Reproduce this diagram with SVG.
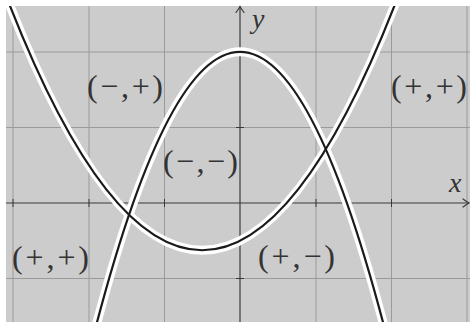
<svg xmlns="http://www.w3.org/2000/svg" width="470" height="322" viewBox="0 0 470 322">
  <style>
    .grid { stroke: #9a9a9a; stroke-width: 1; fill: none; }
    .axis { stroke: #3a3a3a; stroke-width: 1.2; fill: none; }
    .tick { stroke: #3a3a3a; stroke-width: 1; }
    .halo { stroke: #ffffff; stroke-width: 9; fill: none; }
    .curve { stroke: #1a1a1a; stroke-width: 2.2; fill: none; }
    .lbl { font-family: "Liberation Serif", "DejaVu Serif", serif; font-size: 32px; fill: #333333; }
    .var { font-family: "Liberation Serif", "DejaVu Serif", serif; font-style: italic; font-size: 28px; fill: #333333; }
  </style>
  <defs>
    <clipPath id="plot">
      <rect x="6" y="6" width="464" height="316"/>
    </clipPath>
    <marker id="arr" viewBox="-8 -5 10 10" markerWidth="10" markerHeight="10" refX="0" refY="0" orient="auto" markerUnits="userSpaceOnUse">
      <path d="M-6,-4 Q-2,-1 0,0 Q-2,1 -6,4" fill="none" stroke="#3a3a3a" stroke-width="1.2" stroke-linecap="round"/>
    </marker>
  </defs>
  <rect x="0" y="0" width="470" height="322" fill="#ffffff"/>
  <rect x="6" y="6" width="464" height="316" fill="#cccccc"/>
  <g id="grid" class="grid">
    <line x1="13" y1="6" x2="13" y2="322"/>
    <line x1="89" y1="6" x2="89" y2="322"/>
    <line x1="164.5" y1="6" x2="164.5" y2="322"/>
    <line x1="316" y1="6" x2="316" y2="322"/>
    <line x1="391.5" y1="6" x2="391.5" y2="322"/>
    <line x1="467" y1="6" x2="467" y2="322"/>
    <line x1="6" y1="52" x2="470" y2="52"/>
    <line x1="6" y1="127.5" x2="470" y2="127.5"/>
    <line x1="6" y1="278.5" x2="470" y2="278.5"/>
  </g>
  <g id="axes">
    <line class="axis" x1="6" y1="203" x2="469" y2="203" marker-end="url(#arr)"/>
    <line class="axis" x1="240" y1="322" x2="240" y2="6.5" marker-end="url(#arr)"/>
    <g class="tick">
      <line x1="13" y1="199" x2="13" y2="207"/>
      <line x1="89" y1="199" x2="89" y2="207"/>
      <line x1="164.5" y1="199" x2="164.5" y2="207"/>
      <line x1="316" y1="199" x2="316" y2="207"/>
      <line x1="391.5" y1="199" x2="391.5" y2="207"/>
      <line x1="236" y1="52" x2="244" y2="52"/>
      <line x1="236" y1="127.5" x2="244" y2="127.5"/>
      <line x1="236" y1="278.5" x2="244" y2="278.5"/>
    </g>
    <text id="xlabel" class="var" x="449" y="192">x</text>
    <text id="ylabel" class="var" x="252" y="27.5">y</text>
  </g>
  <g id="connectors" clip-path="url(#plot)">
    <path class="halo" d="M-24.6,-89.95 Q202.2,590.45 429,-89.95"/>
    <path class="halo" d="M88.8,354.2 Q240,-250.6 391.2,354.2"/>
    <path id="curve-up" class="curve" d="M-24.6,-89.95 Q202.2,590.45 429,-89.95"/>
    <path id="curve-down" class="curve" d="M88.8,354.2 Q240,-250.6 391.2,354.2"/>
  </g>
  <g id="region-mp-top"><text class="lbl" x="87" y="97" textLength="76" lengthAdjust="spacing">(−,+)</text></g>
  <g id="region-mm"><text class="lbl" x="163" y="172" textLength="75" lengthAdjust="spacing">(−,−)</text></g>
  <g id="region-pp-right"><text class="lbl" x="391" y="97" textLength="76" lengthAdjust="spacing">(+,+)</text></g>
  <g id="region-pp-left"><text class="lbl" x="12" y="268" textLength="77" lengthAdjust="spacing">(+,+)</text></g>
  <g id="region-pm"><text class="lbl" x="258" y="267" textLength="77" lengthAdjust="spacing">(+,−)</text></g>
</svg>
